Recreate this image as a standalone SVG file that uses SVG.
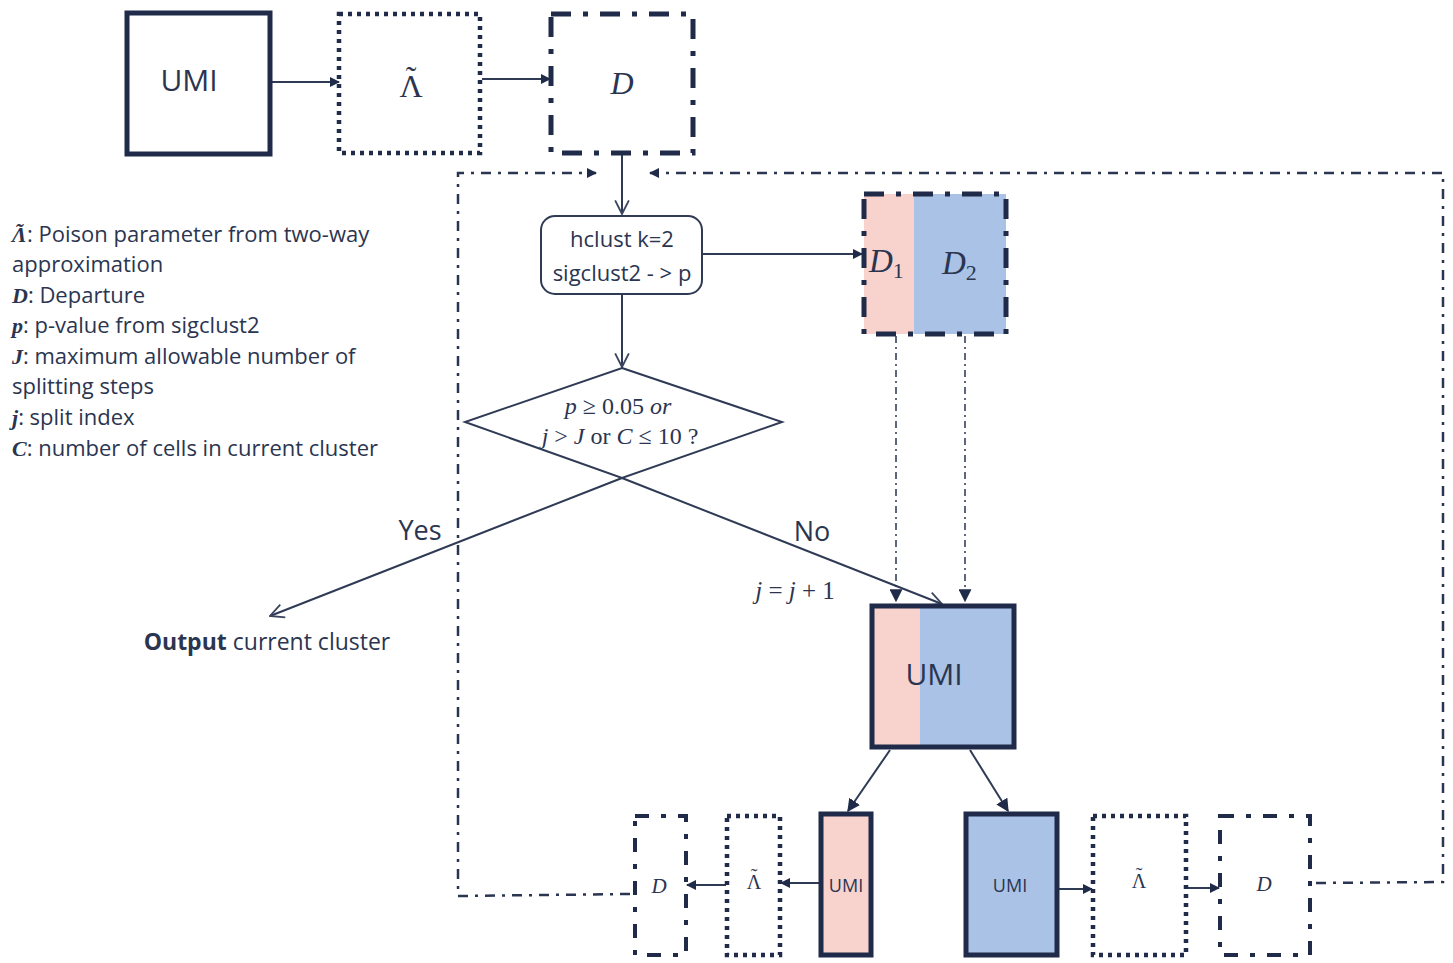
<svg xmlns="http://www.w3.org/2000/svg" width="1453" height="963" viewBox="0 0 1453 963">
<defs>
<marker id="fa" viewBox="0 0 10 10" refX="9" refY="5" markerWidth="10" markerHeight="10" markerUnits="userSpaceOnUse" orient="auto"><path d="M0,0 L10,5 L0,10 Z" fill="#1f2b48"/></marker>
<marker id="oa" viewBox="0 0 14 14" refX="13" refY="7" markerWidth="16" markerHeight="16" markerUnits="userSpaceOnUse" orient="auto"><path d="M1,1 L13,7 L1,13" fill="none" stroke="#3a4560" stroke-width="1.6"/></marker>
<marker id="ba" viewBox="0 0 10 10" refX="9" refY="5" markerWidth="13" markerHeight="13" markerUnits="userSpaceOnUse" orient="auto"><path d="M0,0 L10,5 L0,10 Z" fill="#1f2b48"/></marker>
</defs>
<style>
.solid{fill:none;stroke:#1f2b48;stroke-width:5}
.dot{fill:none;stroke:#1f2b48;stroke-width:4.5;stroke-dasharray:4 5}
.dd{fill:none;stroke:#1f2b48;stroke-width:5;stroke-dasharray:20 12 5 12}
.ddthin{fill:none;stroke:#1f2b48;stroke-width:4;stroke-dasharray:14 12 5 12}
.loop{fill:none;stroke:#2a3552;stroke-width:2.5;stroke-dasharray:10 7 3 7}
.vdd{fill:none;stroke:#2a3552;stroke-width:1.5;stroke-dasharray:7 4 2 4}
.ln{fill:none;stroke:#2f3a55;stroke-width:2}
.pink{fill:#f8d2cd}
.blue{fill:#a9c2e6}
.sans{font-family:"Open Sans","Liberation Sans",sans-serif;fill:#2b3550}
.ser{font-family:"Liberation Serif","DejaVu Serif",serif;fill:#2b3550;font-style:italic}
.up{font-family:"Liberation Serif","DejaVu Serif",serif;fill:#2b3550;font-style:normal}
.leg{font-family:"Open Sans","Liberation Sans",sans-serif;fill:#2b3550;font-size:22px}
.sym{font-family:"Liberation Serif","DejaVu Serif",serif;font-weight:bold;font-style:italic}
.n{font-style:normal}
</style>

<g id="connectors">
<line class="ln" x1="272" y1="82" x2="339" y2="82" marker-end="url(#fa)"/>
<line class="ln" x1="482" y1="79" x2="550" y2="79" marker-end="url(#fa)"/>
<line class="ln" x1="622" y1="154" x2="622" y2="214" marker-end="url(#oa)"/>
<line class="ln" x1="702" y1="254" x2="862" y2="254" marker-end="url(#fa)"/>
<line class="ln" x1="622" y1="295" x2="622" y2="367" marker-end="url(#oa)"/>
<line class="ln" x1="622" y1="478" x2="270" y2="616" marker-end="url(#oa)"/>
<line class="ln" x1="622" y1="478" x2="942" y2="604" marker-end="url(#oa)"/>
<line class="vdd" x1="896" y1="336" x2="896" y2="601" marker-end="url(#ba)"/>
<line class="vdd" x1="965" y1="336" x2="965" y2="601" marker-end="url(#ba)"/>
<line class="ln" x1="890" y1="750" x2="848" y2="811" marker-end="url(#ba)"/>
<line class="ln" x1="970" y1="750" x2="1008" y2="811" marker-end="url(#ba)"/>
<line class="ln" x1="820" y1="883" x2="781" y2="883" marker-end="url(#fa)"/>
<line class="ln" x1="726" y1="885" x2="687" y2="885" marker-end="url(#fa)"/>
<line class="ln" x1="1058" y1="889" x2="1092" y2="889" marker-end="url(#fa)"/>
<line class="ln" x1="1187" y1="888" x2="1219" y2="888" marker-end="url(#fa)"/>
<polyline class="loop" points="630,894 458,896 458,173 596,173" marker-end="url(#fa)"/>
<polyline class="loop" points="1316,883 1443,882 1443,173 650,173" marker-end="url(#fa)"/>
</g>

<g id="umi-top">
<rect class="solid" x="127" y="13" width="143" height="141"/>
<text class="sans" x="189" y="91" font-size="30" text-anchor="middle">UMI</text>
</g>
<g id="lambda-top">
<rect class="dot" x="339" y="14" width="141" height="139"/>
<text class="up" x="411" y="97" font-size="32" text-anchor="middle">Λ<tspan x="411" dy="-9">˜</tspan></text>
</g>
<g id="d-top">
<rect class="dd" x="551" y="14" width="142" height="139"/>
<text class="ser" x="622" y="94" font-size="32" text-anchor="middle">D</text>
</g>

<g id="legend" class="leg">
<text x="12" y="242"><tspan class="sym">Λ</tspan><tspan class="sym" x="15" dy="-4">˜</tspan><tspan x="27" dy="4">: Poison parameter from two-way</tspan></text>
<text x="12" y="272">approximation</text>
<text x="12" y="303"><tspan class="sym">D</tspan>: Departure</text>
<text x="12" y="333"><tspan class="sym">p</tspan>: p-value from sigclust2</text>
<text x="12" y="364"><tspan class="sym">J</tspan>: maximum allowable number of</text>
<text x="12" y="394">splitting steps</text>
<text x="12" y="425"><tspan class="sym">j</tspan>: split index</text>
<text x="12" y="456"><tspan class="sym">C</tspan>: number of cells in current cluster</text>
</g>

<g id="hclust">
<rect x="541" y="216" width="161" height="78" rx="14" fill="#fff" stroke="#2f3a55" stroke-width="2"/>
<text class="sans" x="622" y="247" font-size="22" text-anchor="middle">hclust k=2</text>
<text class="sans" x="622" y="281" font-size="22" text-anchor="middle">sigclust2 - &gt; p</text>
</g>

<g id="d1d2">
<rect class="pink" x="864" y="194" width="50" height="140"/>
<rect class="blue" x="914" y="194" width="92" height="140"/>
<rect class="dd" x="864" y="194" width="142" height="140"/>
<text class="ser" x="869" y="272" font-size="33">D<tspan class="n" font-size="22" dy="6">1</tspan></text>
<text class="ser" x="942" y="274" font-size="33">D<tspan class="n" font-size="22" dy="6">2</tspan></text>
</g>

<g id="decision">
<polygon points="622,368 782,422 622,478 465,422" fill="#fff" stroke="#2f3a55" stroke-width="2"/>
<text class="ser" x="618" y="414" font-size="24" text-anchor="middle">p <tspan class="n">≥ 0.05</tspan> or</text>
<text class="ser" x="620" y="444" font-size="24" text-anchor="middle">j <tspan class="n">&gt;</tspan> J <tspan class="n">or</tspan> C <tspan class="n">≤ 10 ?</tspan></text>
</g>

<g id="labels">
<text class="sans" x="420" y="540" font-size="27" text-anchor="middle">Yes</text>
<text class="sans" x="812" y="541" font-size="27" text-anchor="middle">No</text>
<text class="ser" x="795" y="599" font-size="25" text-anchor="middle">j <tspan class="n">=</tspan> j <tspan class="n">+ 1</tspan></text>
</g>

<g id="output">
<text class="sans" x="267" y="650" font-size="23" text-anchor="middle"><tspan font-weight="bold">Output</tspan> current cluster</text>
</g>

<g id="umi-mid">
<rect class="pink" x="872" y="606" width="48" height="141"/>
<rect class="blue" x="920" y="606" width="94" height="141"/>
<rect class="solid" x="872" y="606" width="142" height="141"/>
<text class="sans" x="934" y="685" font-size="30" text-anchor="middle">UMI</text>
</g>

<g id="umi-pink">
<rect class="pink" x="821" y="814" width="50" height="141"/>
<rect class="solid" x="821" y="814" width="50" height="141"/>
<text class="sans" x="846" y="892" font-size="18" text-anchor="middle">UMI</text>
</g>
<g id="lambda-left">
<rect class="dot" x="727" y="816" width="53" height="139"/>
<text class="up" x="754" y="889" font-size="20" text-anchor="middle">Λ<tspan x="754" dy="-6">˜</tspan></text>
</g>
<g id="d-left">
<rect class="ddthin" x="635" y="816" width="51" height="139"/>
<text class="ser" x="659" y="893" font-size="21" text-anchor="middle">D</text>
</g>

<g id="umi-blue">
<rect class="blue" x="966" y="814" width="91" height="141"/>
<rect class="solid" x="966" y="814" width="91" height="141"/>
<text class="sans" x="1010" y="892" font-size="18" text-anchor="middle">UMI</text>
</g>
<g id="lambda-right">
<rect class="dot" x="1093" y="816" width="93" height="139"/>
<text class="up" x="1139" y="888" font-size="20" text-anchor="middle">Λ<tspan x="1139" dy="-6">˜</tspan></text>
</g>
<g id="d-right">
<rect class="ddthin" x="1220" y="816" width="90" height="139"/>
<text class="ser" x="1264" y="891" font-size="21" text-anchor="middle">D</text>
</g>
</svg>
